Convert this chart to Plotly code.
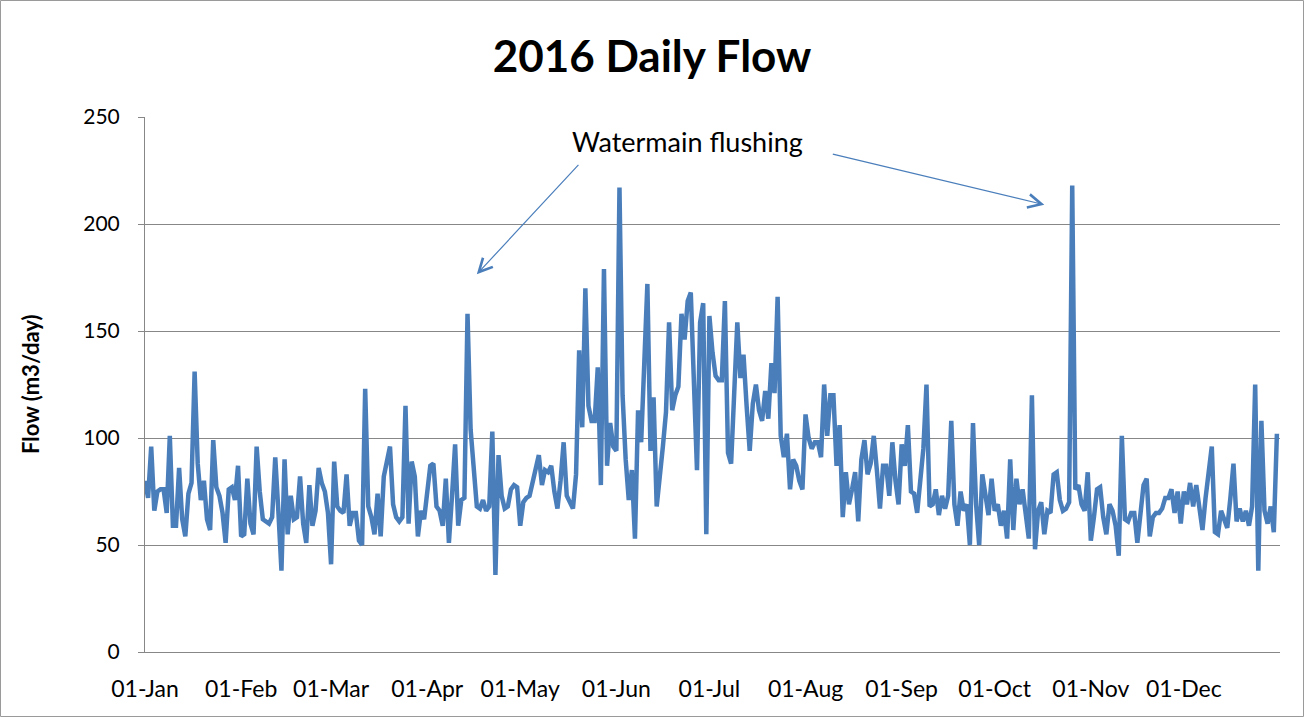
import pandas as pd
import plotly.graph_objects as go

# Daily flow (m3/day), month by month
jan = [80,72,96,66,75,76,76,65,101,59,59,86,62,54,74,79,131,88,71,80,62,57,99,77,73,65,51,76,77,71,87]
feb = [54,55,81,60,55,96,75,62,61,60,63,91,66,38,90,55,73,62,63,82,60,51,78,59,66,86,79,75,65]
mar = [41,89,68,66,65,83,59,65,65,52,50,123,68,63,55,74,54,82,90,96,69,63,61,63,115,60,89,82,54,66,62]
apr = [75,87,88,68,66,59,81,51,73,97,59,71,72,158,104,88,68,67,71,66,68,103,36,92,73,67,68,76,78,77]
may = [59,70,72,73,79,85,92,78,85,84,87,75,67,80,98,73,70,67,83,141,105,170,115,108,108,133,78,179,87,107,96]
jun = [94,217,120,90,71,85,53,113,98,135,172,94,119,68,85,96,112,154,113,120,124,158,146,164,168,127,85,154,163,55]
jul = [157,140,129,127,127,164,93,88,120,154,128,139,115,94,116,125,113,108,122,109,135,121,166,101,91,102,76,90,87,80,76]
aug = [111,100,95,98,98,91,125,101,120,120,87,106,63,84,69,76,84,61,90,99,83,88,101,85,67,87,87,73,98,80,69]
sep = [97,87,106,75,74,65,80,95,125,68,69,76,64,73,67,73,108,69,59,75,66,69,50,107,69,50,83,73,64,81]
oct_ = [66,69,59,66,53,90,57,81,69,76,63,53,120,48,66,70,55,66,65,83,84,71,66,67,70,218,76,78,69,66,84]
nov = [52,63,76,77,63,55,69,66,59,45,101,62,61,65,65,51,67,78,81,54,63,65,65,67,72,72,76,65,75,60]
dec = [75,69,79,68,78,66,57,72,85,96,56,55,66,62,58,72,88,61,67,61,66,59,68,125,38,108,66,60,68,56,102]

month_ticks = ["2016-01-01","2016-02-01","2016-03-01","2016-04-01","2016-05-01","2016-06-01",
               "2016-07-01","2016-08-01","2016-09-01","2016-10-01","2016-11-01","2016-12-01"]
month_labels = ["01-Jan","01-Feb","01-Mar","01-Apr","01-May","01-Jun",
                "01-Jul","01-Aug","01-Sep","01-Oct","01-Nov","01-Dec"]
y_ticks = [0, 50, 100, 150, 200, 250]

flow = jan + feb + mar + apr + may + jun + jul + aug + sep + oct_ + nov + dec
dates = pd.date_range("2016-01-01", periods=len(flow), freq="D")

FONT = "Lato, 'Open Sans', sans-serif"
BLUE = "#4a7ebb"
GRID = "#878787"

W, H = 1304, 717
L, R, T, B = 145, 24, 117, 65
PW, PH = W - L - R, H - T - B

fig = go.Figure()
fig.add_trace(go.Scatter(x=dates, y=flow, mode="lines",
                         line=dict(color=BLUE, width=4.5), hoverinfo="x+y"))

fig.update_layout(
    width=W, height=H,
    margin=dict(l=L, r=R, t=T, b=B, autoexpand=False),
    paper_bgcolor="white", plot_bgcolor="white",
    showlegend=False,
    font=dict(family=FONT, color="black"),
    title=dict(text="<b>2016 Daily Flow</b>", x=0.5, xanchor="center",
               y=1 - 57/H, yanchor="middle",
               font=dict(family=FONT, size=44, color="black")),
    xaxis=dict(type="date", range=["2016-01-01", "2017-01-01"],
               tickvals=month_ticks, ticktext=month_labels, automargin=False,
               showgrid=False, showline=True, linecolor=GRID, linewidth=1,
               ticks="", ticklabelstandoff=16,
               tickfont=dict(family=FONT, size=23, color="black")),
    yaxis=dict(range=[0, 250], tickvals=y_ticks, showgrid=True, gridcolor=GRID, gridwidth=1,
               showline=True, linecolor=GRID, linewidth=1, zeroline=False, automargin=False,
               ticks="outside", ticklen=6, tickcolor=GRID, ticklabelstandoff=14,
               tickfont=dict(family=FONT, size=21, color="black")),
)

# y-axis title
fig.add_annotation(xref="paper", yref="paper", x=-(L - 30)/PW, y=(652 - 384)/PH,
                   text="<b>Flow (m3/day)</b>", textangle=-90, showarrow=False,
                   font=dict(family=FONT, size=22, color="black"),
                   xanchor="center", yanchor="middle")

# outer chart border
fig.add_shape(type="rect", xref="paper", yref="paper",
              x0=-(L - 0.5)/PW, x1=(W - 0.5 - L)/PW,
              y0=-(H - 0.5 - (T + PH))/PH, y1=1 + (T - 0.5)/PH,
              line=dict(color="#9a9a9a", width=1), fillcolor="rgba(0,0,0,0)")

# annotation text and arrows
fig.add_annotation(x="2016-06-24", y=238.5, text="Watermain flushing", showarrow=False,
                   font=dict(family=FONT, size=27, color="black"), xanchor="center", yanchor="middle")
fig.add_annotation(x="2016-04-17", y=176.5, ax=103, ay=-111, axref="pixel", ayref="pixel",
                   text="", showarrow=True, arrowhead=5, arrowsize=2.2, arrowwidth=1.2,
                   arrowcolor=BLUE)
fig.add_annotation(x="2016-10-17", y=209, ax=-213, ay=-51, axref="pixel", ayref="pixel",
                   text="", showarrow=True, arrowhead=5, arrowsize=2.2, arrowwidth=1.2,
                   arrowcolor=BLUE)

fig.write_html("out.html", config={"displayModeBar": False},
               post_script="document.body.style.margin='0px';")
